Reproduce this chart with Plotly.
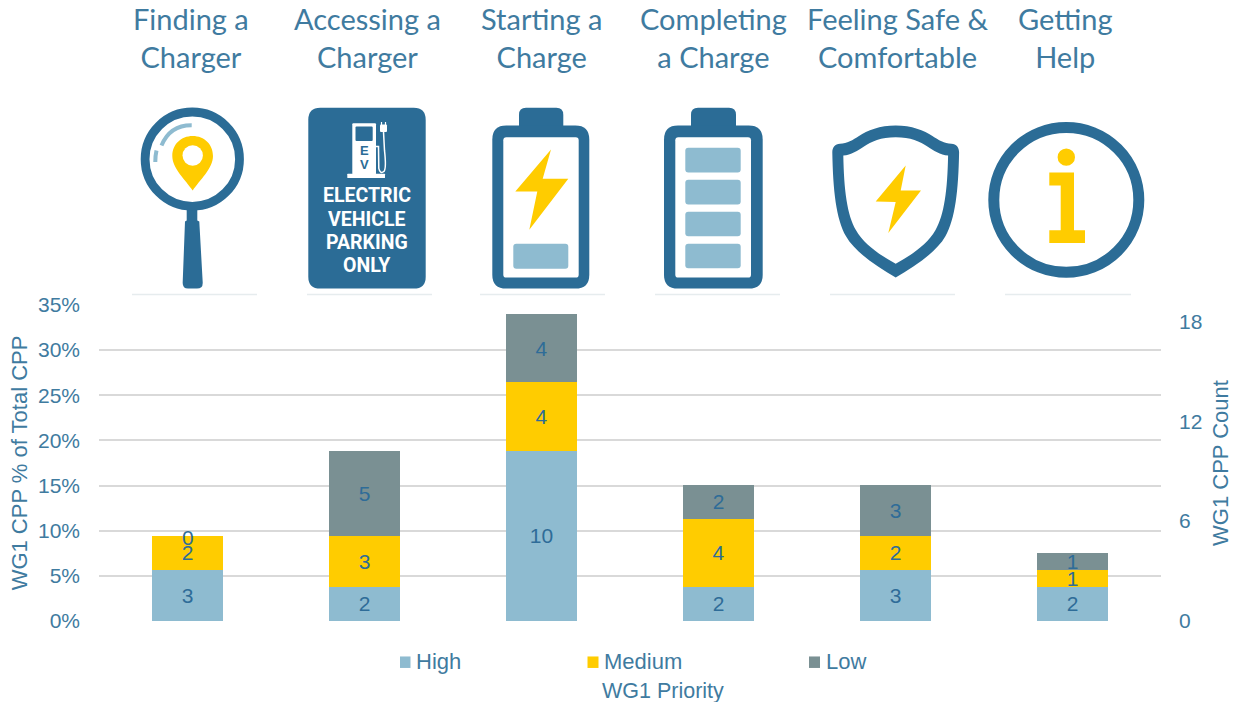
import plotly.graph_objects as go

categories = ["Finding a Charger", "Accessing a Charger", "Starting a Charge",
              "Completing a Charge", "Feeling Safe & Comfortable", "Getting Help"]
top_labels = ["Finding a<br>Charger", "Accessing a<br>Charger", "Starting a<br>Charge",
              "Completing<br>a Charge", "Feeling Safe &<br>Comfortable", "Getting<br>Help"]
top_label_x = [191, 367, 541, 713, 897, 1065]

high_pct = [5.66, 3.77, 18.87, 3.77, 5.66, 3.77]
medium_pct = [3.77, 5.66, 7.55, 7.55, 3.77, 1.89]
low_pct = [0.0, 9.43, 7.55, 3.77, 5.66, 1.89]
high_count = [3, 2, 10, 2, 3, 2]
medium_count = [2, 3, 4, 4, 2, 1]
low_count = [0, 5, 4, 2, 3, 1]
left_ticks = [0, 5, 10, 15, 20, 25, 30, 35]
right_ticks = [0, 6, 12, 18]

BLUE = "#2B6C96"; LIGHT = "#8EBBD0"; YELLOW = "#FFCC00"; GREY = "#7A9093"
TEXT = "#3F7BA0"; LABEL = "#2E6C98"
FIG_W, FIG_H = 1237, 702
L, R, T, B = 99, 1161, 304.7, 621

def px(x, y):
    return (x - L) / (R - L), (B - y) / (B - T)

def path(*cmds):
    out = []
    for c in cmds:
        if isinstance(c, str):
            out.append(c)
        else:
            a, b = px(*c)
            out.append(f"{a:.5f},{b:.5f}")
    return " ".join(out)

shapes = []
def add_path(d, fill=None, line=None, w=0):
    shapes.append(dict(type="path", xref="paper", yref="paper", path=d, layer="above",
                       fillcolor=fill or "rgba(0,0,0,0)",
                       line=dict(color=line or "rgba(0,0,0,0)", width=w)))

def poly(points, fill):
    d = ["M", points[0]]
    for p in points[1:]:
        d += ["L", p]
    d.append("Z")
    add_path(path(*d), fill=fill)

def rrect(x0, y0, x1, y1, r, fill):
    add_path(path("M", (x0 + r, y0), "L", (x1 - r, y0), "Q", (x1, y0), (x1, y0 + r),
                  "L", (x1, y1 - r), "Q", (x1, y1), (x1 - r, y1),
                  "L", (x0 + r, y1), "Q", (x0, y1), (x0, y1 - r),
                  "L", (x0, y0 + r), "Q", (x0, y0), (x0 + r, y0), "Z"), fill=fill)

def circle(cx, cy, r, fill, line=None, w=0):
    a0, b0 = px(cx - r, cy + r)
    a1, b1 = px(cx + r, cy - r)
    shapes.append(dict(type="circle", xref="paper", yref="paper", x0=a0, y0=b0, x1=a1, y1=b1,
                       layer="above", fillcolor=fill,
                       line=dict(color=line or "rgba(0,0,0,0)", width=w)))

# thin rules under the icons
for a, b in [(132, 257), (307, 432), (480, 605), (655, 780), (830, 955), (1005, 1131)]:
    add_path(path("M", (a, 294.3), "L", (b, 294.3)), line="#E6ECEE", w=1.5)

# magnifier
add_path(path("M", (186.7, 205), "L", (197.3, 205), "L", (197.3, 220), "L", (199.3, 221),
              "L", (202.7, 282), "Q", (203, 288.3), (197, 288.3), "L", (188, 288.3),
              "Q", (182.4, 288.3), (182.7, 282), "L", (185, 221), "L", (186.7, 220), "Z"), fill=BLUE)
circle(192.3, 158.7, 47.2, "#FFFFFF", BLUE, 8.8)
add_path(path("M", (191.7, 124.7), "Q", (170, 124.5), (161.5, 145)), line=LIGHT, w=4)
add_path(path("M", (156.5, 150), "Q", (155.3, 155), (155.3, 161.5)), line=LIGHT, w=4)
add_path(path("M", (192.7, 190), "C", (186, 180), (172.3, 168), (172.3, 155.5),
              "C", (172.3, 144), (181, 135.5), (192.7, 135.5),
              "C", (204.4, 135.5), (213, 144), (213, 155.5),
              "C", (213, 168), (199.4, 180), (192.7, 190), "Z"), fill=YELLOW)
circle(192.7, 155, 10.2, "#FFFFFF")

# parking sign
rrect(308.3, 107.3, 425.7, 288.3, 12, BLUE)
rrect(352.3, 122.7, 376, 174, 1, "#FFFFFF")
rrect(355.5, 126, 372.7, 140.5, 1, BLUE)
rrect(347.3, 173.3, 385, 177.5, 0.5, "#FFFFFF")
add_path(path("M", (376, 146), "L", (378.5, 146), "L", (378.8, 168),
              "Q", (380, 174), (384, 171), "Q", (386.5, 168), (384.5, 150),
              "L", (383.5, 131)), line="#FFFFFF", w=1.5)
rrect(380, 124, 387, 131.5, 1, "#FFFFFF")
add_path(path("M", (381.5, 121.5), "L", (381.5, 125)), line="#FFFFFF", w=1.2)
add_path(path("M", (385.5, 121.5), "L", (385.5, 125)), line="#FFFFFF", w=1.2)

# battery outlines
def battery(x0, x1, cap0, cap1, i0, i1):
    rrect(cap0, 107.3, cap1, 135, 7, BLUE)
    rrect(x0, 125, x1, 288.3, 14, BLUE)
    rrect(i0, 136.7, i1, 277.3, 3, "#FFFFFF")

battery(492.3, 589.3, 519, 563.3, 503.3, 578.7)
poly([(551, 149), (542.7, 178.3), (568.3, 178.3), (529.3, 229.3), (537.3, 191), (515.3, 191)], YELLOW)
rrect(513.3, 243.3, 568.3, 268.3, 3, LIGHT)

battery(664, 762.7, 691, 736, 675.3, 751)
for y0, y1 in [(147.3, 172), (179.3, 204), (211.3, 236), (243.3, 268)]:
    rrect(685.3, y0, 740.7, y1, 3, LIGHT)

# shield
cx = 895.7
def m(p):
    return (2 * cx - p[0], p[1])
def shield(left_curves, start, fill):
    d = ["M", start]
    for c in left_curves:
        d += ["C", c[0], c[1], c[2]]
    pts = [start] + [q for c in left_curves for q in c]
    rev = [m(p) for p in reversed(pts)]
    for i in range(1, len(rev), 3):
        d += ["C", rev[i], rev[i + 1], rev[i + 2]]
    d.append("Z")
    add_path(path(*d), fill=fill)

shield([((880, 125), (867, 130), (859, 135.5)), ((853, 139.5), (847, 143), (840, 143.3)),
        ((835, 143.5), (832.3, 147), (832.3, 151.7)), ((833, 190), (836, 218), (846, 236)),
        ((855, 252), (877, 266), (895.7, 277.3))], (895.7, 125), BLUE)
shield([((881, 136.7), (871, 141), (864, 146)), ((858, 150), (851, 154.5), (843.3, 155)),
        ((844, 190), (847, 214), (856, 230)), ((864, 244), (880, 255), (895.7, 263.3))],
       (895.7, 136.7), "#FFFFFF")
poly([(905.7, 165), (900.7, 190), (921, 190), (888.3, 232.7), (895.7, 201.7), (875.7, 201)], YELLOW)

# info
circle(1066.3, 199.5, 72.5, "#FFFFFF", BLUE, 11)
circle(1066.3, 156.7, 8.7, YELLOW)
poly([(1049.3, 172), (1074, 172), (1074, 230), (1085, 230), (1085, 242.7), (1049.3, 242.7),
      (1049.3, 230), (1060.7, 230), (1060.7, 185), (1049.3, 185)], YELLOW)

annotations = []
def note(text, x, y, size, color, font="Liberation Sans", anchor="center"):
    a, b = px(x, y)
    annotations.append(dict(text=text, x=a, y=b, xref="paper", yref="paper", showarrow=False,
                            font=dict(family=font, size=size, color=color),
                            xanchor=anchor, yanchor="middle", borderpad=0))

for text, x in zip(top_labels, top_label_x):
    note(text, x, 37, 29, TEXT, font="Lato")
for text, y in zip(["ELECTRIC", "VEHICLE", "PARKING", "ONLY"], [195.3, 218.7, 242, 265]):
    note(f"<b>{text}</b>", 366.5, y, 19.5, "#FFFFFF", font="Roboto")
note("<b>E</b>", 364.3, 150.5, 13, BLUE)
note("<b>V</b>", 364.3, 164.5, 13, BLUE)
note("WG1 Priority", 662.5, 691, 21.5, TEXT)

fig = go.Figure()
series = [("High", high_pct, high_count, LIGHT, 400, 410.5, 415),
          ("Medium", medium_pct, medium_count, YELLOW, 587.5, 598.5, 603),
          ("Low", low_pct, low_count, GREY, 809, 820, 825)]
for name, vals, counts, color, sq0, sq1, text_x in series:
    fig.add_bar(x=categories, y=vals, name=name, text=[str(c) if c else "" for c in counts],
                textposition="inside", insidetextanchor="middle", constraintext="none",
                textangle=0, marker=dict(color=color, line=dict(width=0)),
                textfont=dict(family="Liberation Sans", size=21, color=LABEL),
                cliponaxis=False, showlegend=False)
    poly([(sq0, 656.5), (sq1, 656.5), (sq1, 668), (sq0, 668)], color)
    note(name, text_x, 661.5, 22, TEXT, anchor="left")
fig.add_scatter(x=categories, y=[None] * 6, yaxis="y2", showlegend=False, hoverinfo="skip")

# a zero-height bar draws no inside text, so its label is anchored to the stack top
annotations.append(dict(x=categories[0], y=high_pct[0] + medium_pct[0] + low_pct[0], xref="x", yref="y",
                        text=str(low_count[0]), showarrow=False, yshift=-2,
                        font=dict(family="Liberation Sans", size=21, color=LABEL)))

fig.update_layout(
    width=FIG_W, height=FIG_H, barmode="stack", bargap=0.6,
    paper_bgcolor="#FFFFFF", plot_bgcolor="#FFFFFF",
    margin=dict(l=L, r=FIG_W - R, t=T, b=FIG_H - B, pad=0, autoexpand=False),
    font=dict(family="Liberation Sans", size=21, color=TEXT),
    xaxis=dict(showticklabels=False, ticks="", showgrid=False, zeroline=False, showline=False),
    yaxis=dict(range=[0, 35], tickvals=left_ticks, ticktext=[f"{v}%" for v in left_ticks],
               gridcolor="#D9D9D9", gridwidth=2, zeroline=False, ticks="", ticklabelstandoff=18,
               title=dict(text="WG1 CPP % of Total CPP", standoff=4, font=dict(size=22, color=TEXT))),
    yaxis2=dict(range=[0, 18.98], overlaying="y", side="right", tickvals=right_ticks,
                showgrid=False, zeroline=False, ticks="", ticklabelstandoff=17,
                title=dict(text="WG1 CPP Count", standoff=11, font=dict(size=22, color=TEXT))),
    shapes=shapes, annotations=annotations, showlegend=False,
)
fig.write_html("out.html", config={"displayModeBar": False},
               post_script="document.body.style.margin='0';")
